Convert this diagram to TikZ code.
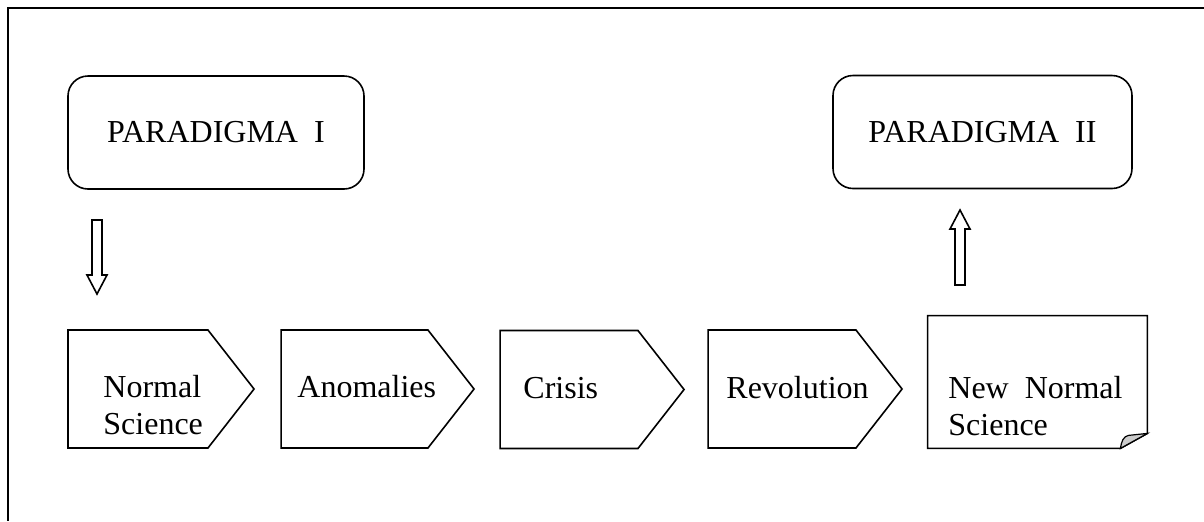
\documentclass[tikz,border=0pt]{standalone}
\usepackage{fontspec}
\setmainfont{Liberation Serif}
\usetikzlibrary{shapes.symbols}

\begin{document}
\begin{tikzpicture}[
    x=0.5pt, y=-0.5pt,
    every node/.style={font=\fontsize{16pt}{18.5pt}\selectfont},
    paradigm/.style={rectangle, draw, rounded corners=10pt, line width=0.8pt, minimum width=148pt, minimum height=56.5pt},
    stepbox/.style={signal, signal to=east, signal pointer angle=104, draw, line width=0.8pt, minimum height=59pt, inner sep=0pt},
    steptext/.style={inner sep=0pt, align=left},
    hollow/.style={draw, line width=0.8pt, fill=white},
    frame/.style={line width=1pt},
]
\useasboundingbox (0,0) rectangle (1204,521);

% Frame (top and left only)
\draw[frame] (1204,8) -- (8,8) -- (8,521);

% Paradigms
\node[paradigm] (p1) at (216,132.5) {PARADIGMA~~I};
\node[paradigm, minimum width=149.5pt] (p2) at (982.5,132) {PARADIGMA~~II};

% Steps
\node[stepbox, minimum width=93pt] (ns) at (138,389) {};
\node[stepbox, minimum width=96.5pt] (anom) at (354.5,389) {};
\node[stepbox, minimum width=92pt] (cris) at (569,389.5) {};
\node[stepbox, minimum width=97pt] (rev) at (782,389) {};
\node[draw=none, minimum width=109.5pt, minimum height=66pt, inner sep=0pt] (nns) at (1037.5,382) {};

% New normal science: page with curled corner
\draw[line width=0.8pt] (nns.north west) -- (nns.north east) -- ([yshift=7.5pt]nns.south east)
    -- ([xshift=-13.5pt]nns.south east) -- (nns.south west) -- cycle;
\filldraw[fill=black!20, line width=0.6pt] ([xshift=-13.5pt]nns.south east)
    .. controls ([xshift=-13pt,yshift=3.5pt]nns.south east) and ([xshift=-12pt,yshift=6pt]nns.south east)
    .. ([xshift=-9.5pt,yshift=6.5pt]nns.south east) -- ([yshift=7.5pt]nns.south east) -- cycle;

% Step texts
\node[steptext, anchor=west] (nsT) at (103,405) {Normal\\Science};
\node[steptext, anchor=base west] (anomT) at (297,397) {Anomalies};
\node[steptext, anchor=base west] (crisT) at (523,398) {Crisis};
\node[steptext, anchor=base west] (revT) at (726,398) {Revolution};
\node[steptext, anchor=west] (nnsT) at (948,406) {New~~Normal\\Science};

% === Hollow block arrows ===
% paradigm I down to normal science
\draw[hollow] (92,220) -- ++(10,0) -- ++(0,55) -- ++(5,0) -- ++(-10,19) -- ++(-10,-19) -- ++(5,0) -- cycle;
% new normal science up to paradigm II
\draw[hollow] (955,285) -- ++(10,0) -- ++(0,-56) -- ++(5,0) -- ++(-10,-19) -- ++(-10,19) -- ++(5,0) -- cycle;

\end{tikzpicture}
\end{document}
